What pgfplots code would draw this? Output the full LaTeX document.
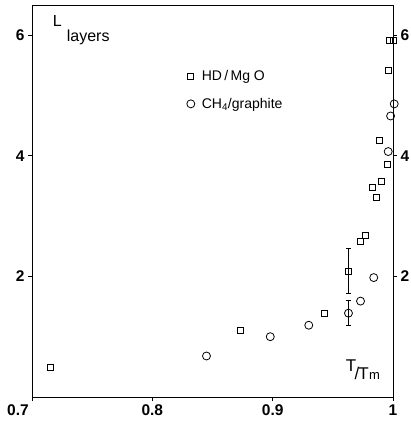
\documentclass[border=0pt]{standalone}
\usepackage{fontspec}
\setmainfont{Liberation Sans}
\usepackage{pgfplots}
\pgfplotsset{compat=1.18}
\begin{document}
\begin{tikzpicture}
\useasboundingbox (-32pt,-28pt) rectangle (379pt,397pt);
\begin{axis}[
  at={(0pt,0pt)}, anchor=south west,
  scale only axis, width=361pt, height=392pt,
  xmin=0.7, xmax=1.0, ymin=0, ymax=6.5,
  axis line style={line width=0.9pt},
  xtick={0.8,0.9,1}, xticklabels={0.8,0.9,1},
  extra x ticks={0.7}, extra x tick labels={0.7},
  extra x tick style={xticklabel style={xshift=-14pt}},
  ytick={2,4,6}, yticklabels={2,4,6},
  tick pos=left, tick align=outside, major tick length=4pt,
  tick style={line width=0.8pt, black},
  ticklabel style={font=\fontsize{15.5}{16}\selectfont\bfseries},
  /pgf/number format/assume math mode=true,
  clip=false,
  legend style={draw=none, fill=none, at={(axis cs:0.826,5.09)}, anchor=west,
    font=\fontsize{14}{16}\selectfont, row sep=12pt},
  legend cell align=left,
]
\addplot[only marks, mark=square, mark size=3pt, line width=0.8pt] coordinates {
(0.715,0.49) (0.873,1.10) (0.943,1.38) (0.963,2.09) (0.973,2.58) (0.977,2.68)
(0.983,3.47) (0.986,3.31) (0.990,3.58) (0.995,3.86) (0.989,4.25) (0.996,5.41)
(0.997,5.92) (1.000,5.92)
};
\addlegendentry{\hspace{5pt}HD\,/\,Mg\ O}
\addplot[only marks, mark=o, mark size=4pt, line width=0.8pt] coordinates {
(0.845,0.68) (0.898,1.00) (0.930,1.19) (0.963,1.39) (0.973,1.59) (0.984,1.98)
(0.996,4.07) (0.998,4.66) (1.001,4.86)
};
\addlegendentry{\hspace{5pt}CH\textsubscript{4}/graphite}
\addplot[forget plot, draw=none, mark=none,
  error bars/.cd, y dir=both, y explicit,
  error bar style={line width=0.8pt, draw=black},
  error mark options={rotate=90, mark size=2.5pt, line width=0.8pt, draw=black}]
  coordinates {(0.963,2.09) +- (0,0.38) (0.963,1.40) +- (0,0.21)};
\node[font=\fontsize{16}{16}\selectfont] at (axis cs:0.721,6.24) {L};
\node[font=\fontsize{16}{16}\selectfont] at (axis cs:0.7467,5.97) {layers};
\node[font=\fontsize{17}{17}\selectfont, anchor=center] at (axis cs:0.975,0.45)
  {\raisebox{0.45em}{T}\kern-0.1em/\kern-0.05em T\kern0.02em{\fontsize{13}{13}\selectfont m}};
\end{axis}
\begin{axis}[
  at={(0pt,0pt)}, anchor=south west,
  scale only axis, width=361pt, height=392pt,
  xmin=0.7, xmax=1.0, ymin=0, ymax=6.5,
  axis x line=none, axis y line*=right,
  axis line style={line width=0.9pt, -},
  ytick={2,4,6}, yticklabels={2,4,6},
  tick align=outside, major tick length=4pt,
  tick style={line width=0.8pt, black},
  ticklabel style={font=\fontsize{15.5}{16}\selectfont\bfseries},
]
\end{axis}
\end{tikzpicture}
\end{document}
